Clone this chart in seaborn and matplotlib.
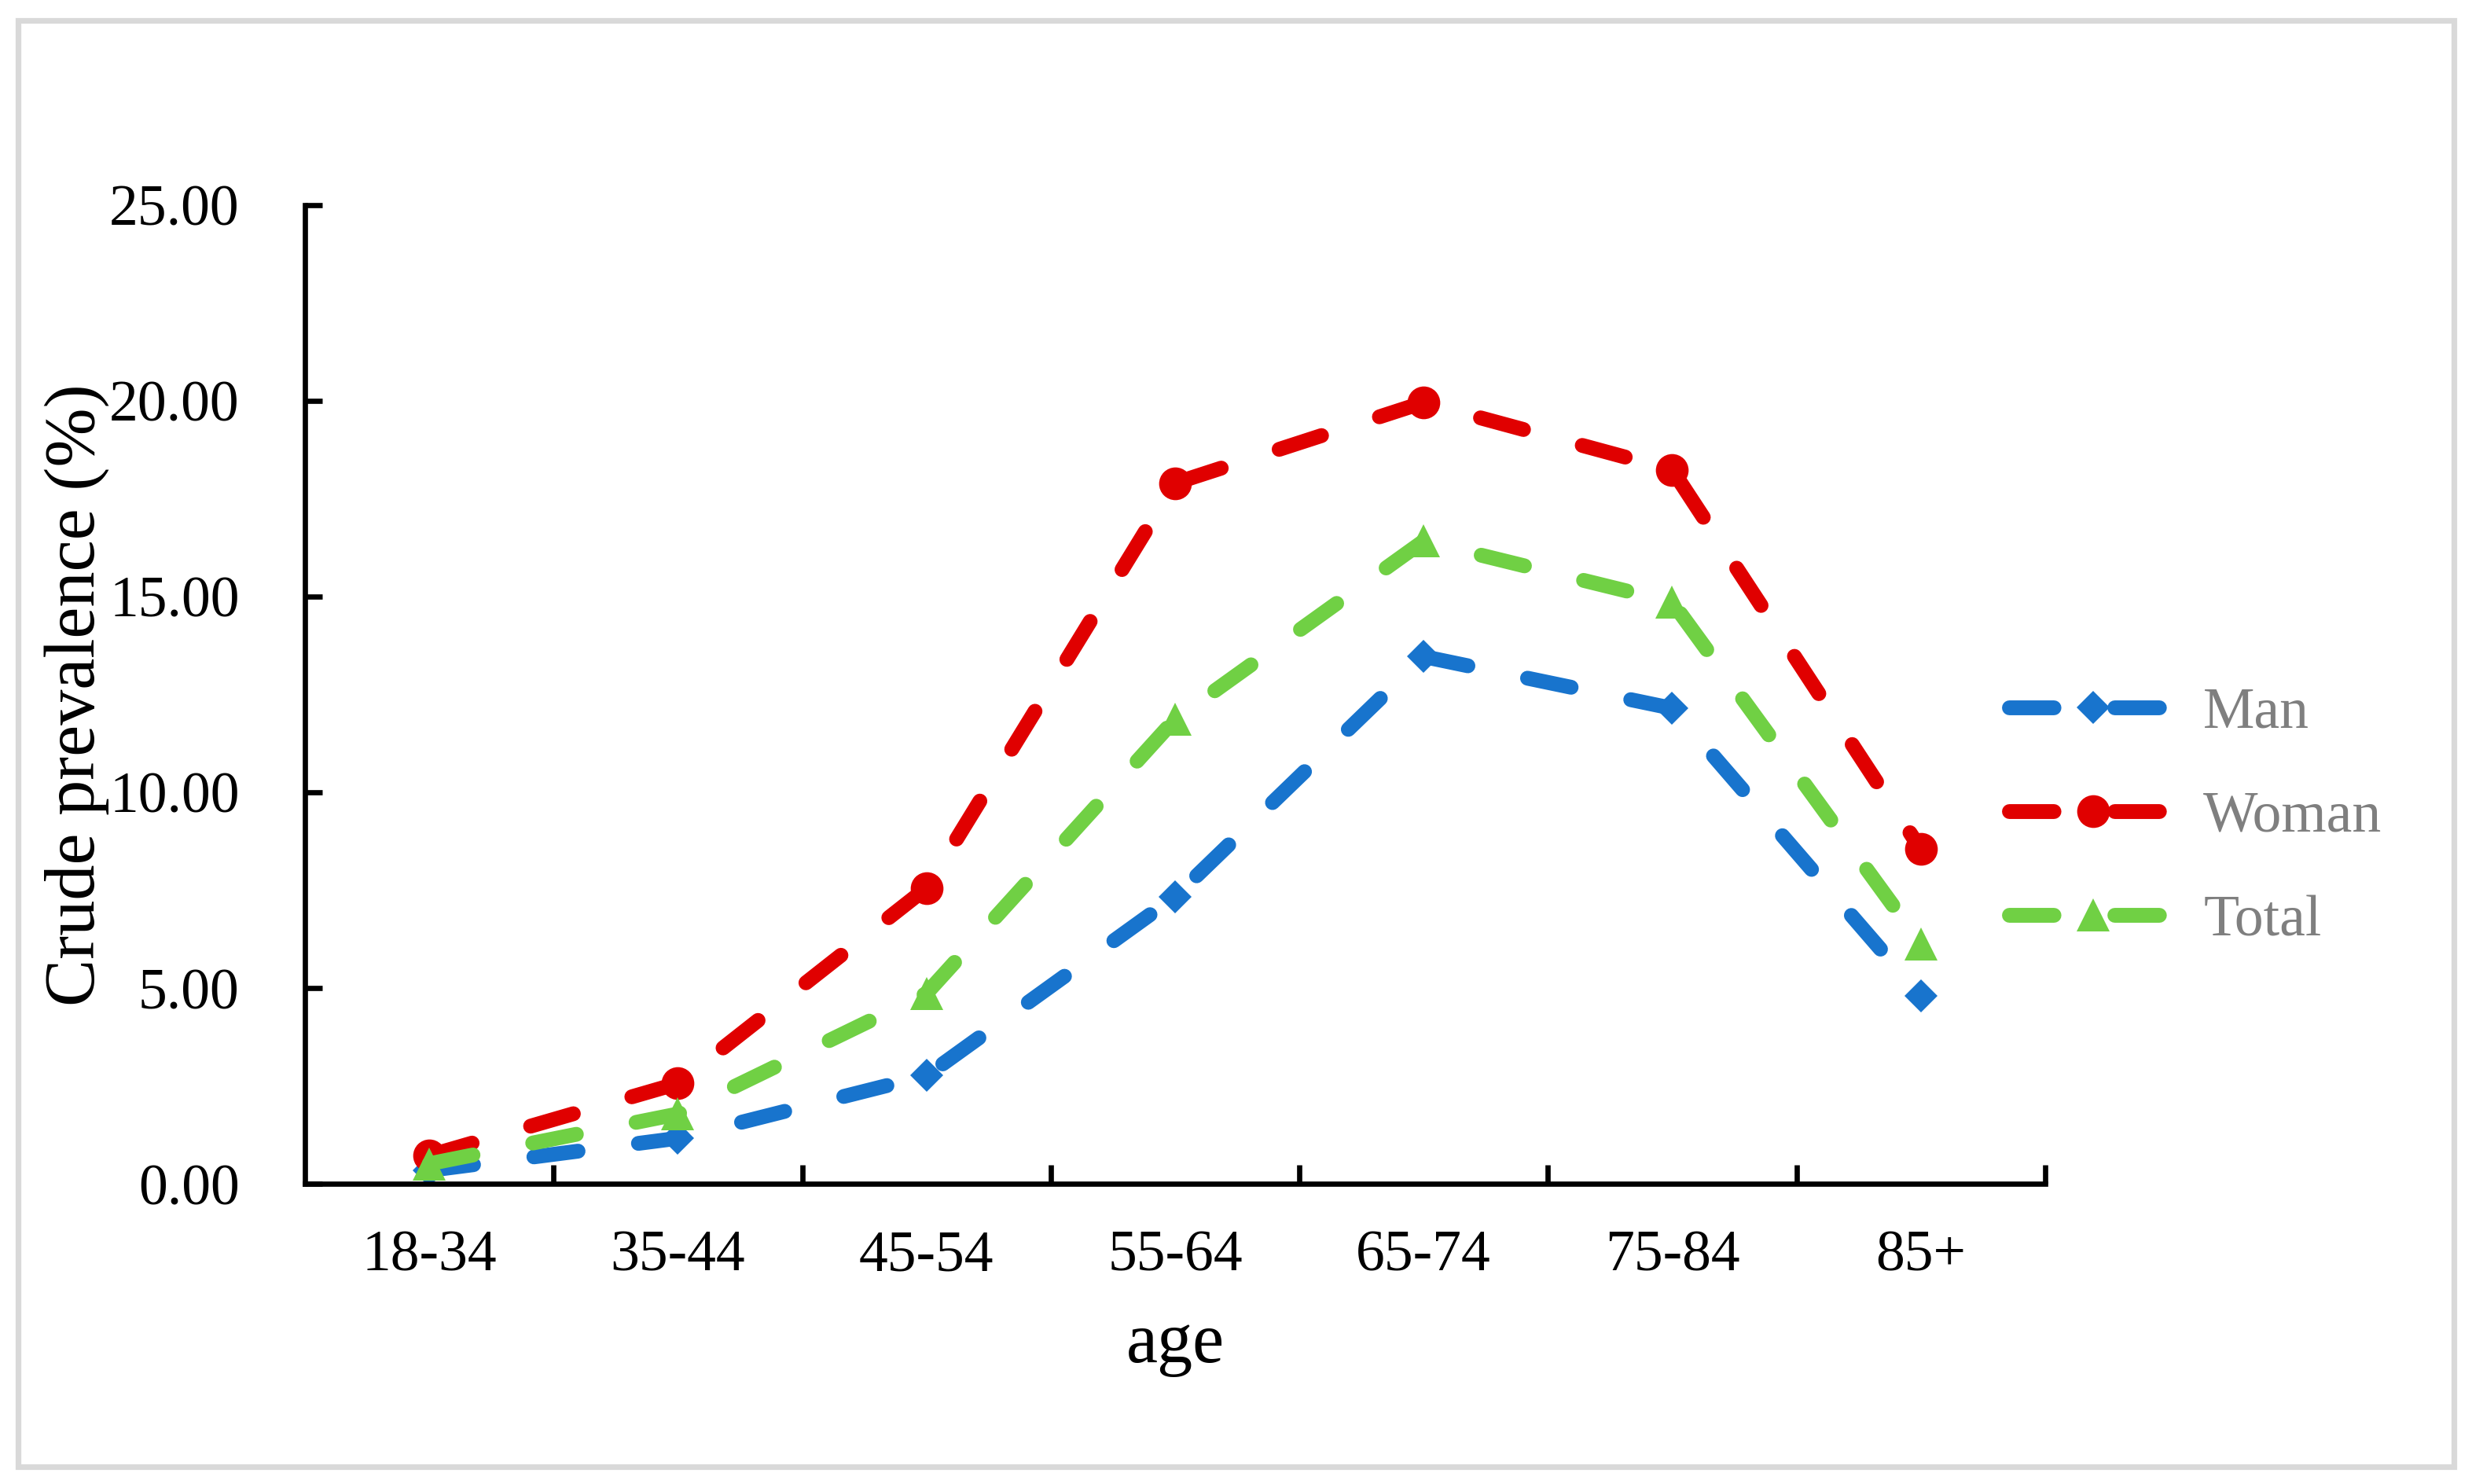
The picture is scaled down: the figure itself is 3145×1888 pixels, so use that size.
#%% packages
import numpy as np
import pandas as pd
import seaborn as sns
import matplotlib.pyplot as plt
from matplotlib.colors import same_color
from matplotlib.patches import Rectangle
from matplotlib.ticker import FormatStrFormatter

#%% data
age_groups = ["18-34", "35-44", "45-54", "55-64", "65-74", "75-84", "85+"]
man = [0.35, 1.17, 2.77, 7.34, 13.47, 12.15, 4.81]
woman = [0.73, 2.57, 7.56, 17.90, 19.96, 18.24, 8.55]
total = [0.52, 1.79, 4.87, 11.87, 16.42, 14.86, 6.14]
groups = ["Man", "Woman", "Total"]
y_ticks = [0, 5, 10, 15, 20, 25]

df = pd.DataFrame({
    "age": age_groups * 3,
    "prevalence": man + woman + total,
    "group": np.repeat(groups, len(age_groups)),
})

#%% style
sns.set_style("ticks")
plt.rcParams["font.family"] = ["Liberation Serif", "DejaVu Serif"]
plt.rcParams["lines.dash_capstyle"] = "round"
plt.rcParams["text.color"] = "black"
plt.rcParams["axes.labelcolor"] = "black"
plt.rcParams["xtick.color"] = "black"
plt.rcParams["ytick.color"] = "black"

palette = {"Man": "#1874CD", "Woman": "#E00000", "Total": "#70D044"}
markers = {"Man": "D", "Woman": "o", "Total": "^"}
dashes = {g: (3.0, 4.1) for g in groups}
marker_sizes = {"Man": 10.6, "Woman": 15, "Total": 15}

#%% plot
fig = plt.figure(figsize=(15.725, 9.44), dpi=200)
ax = fig.add_axes([0.1234, 0.2021, 0.8273 - 0.1234, 0.8618 - 0.2021])

sns.lineplot(data=df, x="age", y="prevalence", hue="group", style="group",
             palette=palette, markers=markers, dashes=dashes, linewidth=6.8,
             markeredgewidth=0, sort=False, legend=False, ax=ax)

# per-group marker size, keep handles for the legend
handles = {}
for line in ax.lines:
    for g in groups:
        if same_color(line.get_color(), palette[g]):
            line.set_markersize(marker_sizes[g])
            handles[g] = line

ax.set_xlim(-0.5, 6.5)
ax.set_ylim(0, 25)
ax.set_yticks(y_ticks)
ax.yaxis.set_major_formatter(FormatStrFormatter("%.2f"))
ax.set_xticks(np.arange(0.5, 7, 1), minor=True)

ax.tick_params(axis="x", which="major", length=0, pad=21, labelsize=26.5)
ax.tick_params(axis="x", which="minor", bottom=True, direction="in", length=8.5, width=2.4)
ax.tick_params(axis="y", direction="in", length=8, width=2.4, pad=30, labelsize=26.5)

sns.despine(ax=ax)
for s in ["left", "bottom"]:
    ax.spines[s].set_linewidth(2.4)
    ax.spines[s].set_color("black")

ax.set_xlabel("age", fontsize=32.5)
ax.set_ylabel("Crude prevalence (%)", fontsize=32.5)
ax.xaxis.set_label_coords(0.5, -0.131)
ax.yaxis.set_label_coords(-0.1125, 0.5)

ax.legend([handles[g] for g in groups], groups, loc="center left",
          bbox_to_anchor=(2556 / 3145, 1 - 1040 / 1888), bbox_transform=fig.transFigure,
          frameon=False, fontsize=26.5, labelcolor="#7F7F7F", handlelength=2.91,
          handletextpad=0.45, labelspacing=0.88, borderpad=0, borderaxespad=0, numpoints=1)

# light grey frame round the whole chart
fig.add_artist(Rectangle((0.00731, 0.01139), 0.99253 - 0.00731, 0.98623 - 0.01139,
                         transform=fig.transFigure, fill=False, edgecolor="#D9D9D9", linewidth=2.6))

fig.savefig("out.png", dpi=200)
